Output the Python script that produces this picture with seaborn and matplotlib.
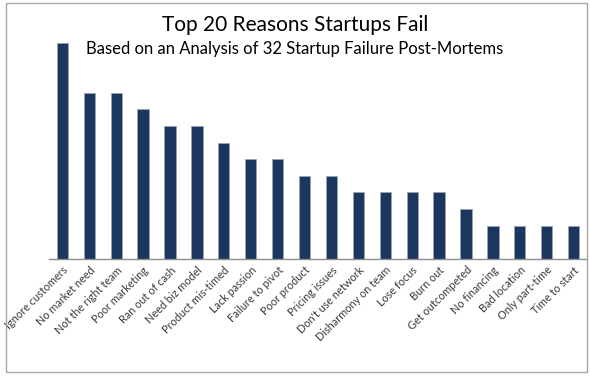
import pandas as pd
import matplotlib.pyplot as plt
import seaborn as sns
import numpy as np

# Reasons and how many of the 32 post-mortems cited them
reasons = [
    "Ignore customers", "No market need", "Not the right team", "Poor marketing",
    "Ran out of cash", "Need biz model", "Product mis-timed", "Lack passion",
    "Failure to pivot", "Poor product", "Pricing issues", "Don't use network",
    "Disharmony on team", "Lose focus", "Burn out", "Get outcompeted",
    "No financing", "Bad location", "Only part-time", "Time to start",
]
counts = [13, 10, 10, 9, 8, 8, 7, 6, 6, 5, 5, 4, 4, 4, 4, 3, 2, 2, 2, 2]

title = "Top 20 Reasons Startups Fail"
subtitle = "Based on an Analysis of 32 Startup Failure Post-Mortems"

sns.set_style("white")
plt.rcParams['font.family'] = ['Lato', 'DejaVu Sans']

df = pd.DataFrame({"reason": reasons, "count": counts})

fig = plt.figure(figsize=(5.9, 3.78), dpi=100)
ax = fig.add_axes([0.083, 0.315, 0.912, 0.616])

sns.barplot(data=df, x="reason", y="count", color="#1b365f", width=0.42,
            edgecolor="#9aa3b0", linewidth=0.6, saturation=1, ax=ax)

ax.set_xlim(-0.5, len(reasons) - 0.5)
ax.set_ylim(0, 14)
ax.set_xlabel("")
ax.set_ylabel("")
ax.set_yticks([])

for s in ["left", "right", "top"]:
    ax.spines[s].set_visible(False)
ax.spines["bottom"].set_color("#8c8c8c")
ax.spines["bottom"].set_linewidth(1)

# labels at bar centres, tick marks between categories (Excel style)
ax.set_xticks(range(len(reasons)))
ax.set_xticklabels(reasons, rotation=45, ha="right", rotation_mode="anchor",
                   fontsize=7.8, color="#3a3a3a")
ax.tick_params(axis="x", which="major", length=0, pad=4)
ax.set_xticks(np.arange(len(reasons) + 1) - 0.5, minor=True)
ax.tick_params(axis="x", which="minor", length=4, color="#8c8c8c", width=0.8,
               direction="out")

fig.text(0.5, 0.933, title, ha="center", va="center", fontsize=15, color="black")
fig.text(0.5, 0.87, subtitle, ha="center", va="center", fontsize=12, color="black")

# chart border
border = plt.Rectangle((0.0102, 0.0159), 0.985, 0.976, transform=fig.transFigure,
                       fill=False, edgecolor="#a6a6a6", linewidth=1)
fig.patches.append(border)

plt.savefig("out.png", dpi=100)
